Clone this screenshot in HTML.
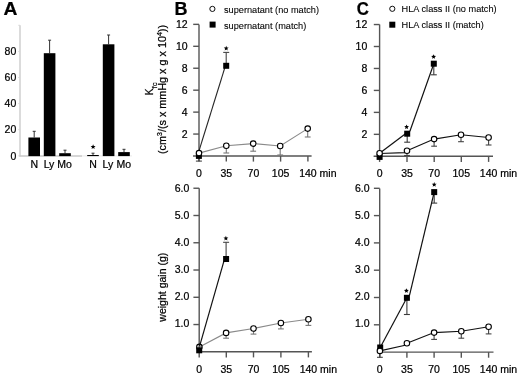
<!DOCTYPE html>
<html><head><meta charset="utf-8"><style>
html,body{margin:0;padding:0;background:#fff;}
svg{display:block;will-change:transform;}
text{font-family:"Liberation Sans",sans-serif;fill:#000;stroke:#000;stroke-width:0.22px;}
</style></head><body>
<svg width="520" height="377" viewBox="0 0 520 377">
<rect width="520" height="377" fill="#fff"/>
<text transform="translate(3.5,14.8) scale(1.07,1)" font-size="18" font-weight="bold">A</text>
<line x1="20.00" y1="25.30" x2="20.00" y2="156.50" stroke="#cfcfcf" stroke-width="1.5"/>
<line x1="18.30" y1="155.80" x2="20.00" y2="155.80" stroke="#d8d8d8" stroke-width="1"/>
<line x1="18.30" y1="129.70" x2="20.00" y2="129.70" stroke="#d8d8d8" stroke-width="1"/>
<line x1="18.30" y1="103.60" x2="20.00" y2="103.60" stroke="#d8d8d8" stroke-width="1"/>
<line x1="18.30" y1="77.50" x2="20.00" y2="77.50" stroke="#d8d8d8" stroke-width="1"/>
<line x1="18.30" y1="51.40" x2="20.00" y2="51.40" stroke="#d8d8d8" stroke-width="1"/>
<line x1="18.30" y1="25.30" x2="20.00" y2="25.30" stroke="#d8d8d8" stroke-width="1"/>
<text x="16.30" y="159.56" font-size="10.5" text-anchor="end">0</text>
<text x="16.30" y="133.46" font-size="10.5" text-anchor="end">20</text>
<text x="16.30" y="107.36" font-size="10.5" text-anchor="end">40</text>
<text x="16.30" y="81.26" font-size="10.5" text-anchor="end">60</text>
<text x="16.30" y="55.16" font-size="10.5" text-anchor="end">80</text>
<line x1="19.50" y1="155.90" x2="82.00" y2="155.90" stroke="#c8c8c8" stroke-width="1.5"/>
<line x1="82.00" y1="155.90" x2="132.00" y2="155.90" stroke="#eeeeee" stroke-width="1.2"/>
<line x1="34.20" y1="137.50" x2="34.20" y2="131.30" stroke="#333" stroke-width="1"/>
<line x1="32.70" y1="131.30" x2="35.70" y2="131.30" stroke="#333" stroke-width="1"/>
<line x1="49.60" y1="53.20" x2="49.60" y2="40.20" stroke="#333" stroke-width="1"/>
<line x1="48.10" y1="40.20" x2="51.10" y2="40.20" stroke="#333" stroke-width="1"/>
<line x1="65.00" y1="153.20" x2="65.00" y2="150.20" stroke="#333" stroke-width="1"/>
<line x1="63.50" y1="150.20" x2="66.50" y2="150.20" stroke="#333" stroke-width="1"/>
<line x1="93.00" y1="155.00" x2="93.00" y2="153.20" stroke="#333" stroke-width="1"/>
<line x1="91.50" y1="153.20" x2="94.50" y2="153.20" stroke="#333" stroke-width="1"/>
<line x1="108.60" y1="44.30" x2="108.60" y2="35.00" stroke="#333" stroke-width="1"/>
<line x1="107.10" y1="35.00" x2="110.10" y2="35.00" stroke="#333" stroke-width="1"/>
<line x1="124.00" y1="152.10" x2="124.00" y2="149.30" stroke="#333" stroke-width="1"/>
<line x1="122.50" y1="149.30" x2="125.50" y2="149.30" stroke="#333" stroke-width="1"/>
<rect x="28.40" y="137.50" width="11.60" height="18.60" fill="#000"/>
<rect x="43.80" y="53.20" width="11.60" height="102.90" fill="#000"/>
<rect x="59.20" y="153.20" width="11.60" height="2.90" fill="#000"/>
<rect x="87.20" y="155.00" width="11.60" height="1.10" fill="#000"/>
<rect x="102.80" y="44.30" width="11.60" height="111.80" fill="#000"/>
<rect x="118.20" y="152.10" width="11.60" height="4.00" fill="#000"/>
<polygon points="93.10,144.30 93.79,145.95 95.57,146.10 94.21,147.26 94.63,149.00 93.10,148.07 91.57,149.00 91.99,147.26 90.63,146.10 92.41,145.95" fill="#000"/>
<text x="34.20" y="167.60" font-size="10.5" text-anchor="middle">N</text>
<text x="49.00" y="167.60" font-size="10.5" text-anchor="middle">Ly</text>
<text x="64.60" y="167.60" font-size="10.5" text-anchor="middle">Mo</text>
<text x="93.00" y="167.60" font-size="10.5" text-anchor="middle">N</text>
<text x="107.90" y="167.60" font-size="10.5" text-anchor="middle">Ly</text>
<text x="123.80" y="167.60" font-size="10.5" text-anchor="middle">Mo</text>
<line x1="199.00" y1="24.40" x2="199.00" y2="156.70" stroke="#555" stroke-width="1.4"/>
<line x1="193.20" y1="134.06" x2="199.00" y2="134.06" stroke="#555" stroke-width="1.4"/>
<text x="187.60" y="137.82" font-size="10.5" text-anchor="end">2</text>
<line x1="193.20" y1="112.12" x2="199.00" y2="112.12" stroke="#555" stroke-width="1.4"/>
<text x="187.60" y="115.88" font-size="10.5" text-anchor="end">4</text>
<line x1="193.20" y1="90.18" x2="199.00" y2="90.18" stroke="#555" stroke-width="1.4"/>
<text x="187.60" y="93.94" font-size="10.5" text-anchor="end">6</text>
<line x1="193.20" y1="68.24" x2="199.00" y2="68.24" stroke="#555" stroke-width="1.4"/>
<text x="187.60" y="72.00" font-size="10.5" text-anchor="end">8</text>
<line x1="193.20" y1="46.30" x2="199.00" y2="46.30" stroke="#555" stroke-width="1.4"/>
<text x="187.60" y="50.06" font-size="10.5" text-anchor="end">10</text>
<line x1="193.20" y1="24.36" x2="199.00" y2="24.36" stroke="#555" stroke-width="1.4"/>
<text x="187.60" y="28.12" font-size="10.5" text-anchor="end">12</text>
<line x1="193.00" y1="156.00" x2="311.60" y2="156.00" stroke="#555" stroke-width="1.4"/>
<line x1="199.00" y1="156.00" x2="199.00" y2="161.60" stroke="#555" stroke-width="1.4"/>
<line x1="226.30" y1="156.00" x2="226.30" y2="161.60" stroke="#555" stroke-width="1.4"/>
<line x1="253.40" y1="156.00" x2="253.40" y2="161.60" stroke="#555" stroke-width="1.4"/>
<line x1="280.60" y1="156.00" x2="280.60" y2="161.60" stroke="#555" stroke-width="1.4"/>
<line x1="307.90" y1="156.00" x2="307.90" y2="161.60" stroke="#555" stroke-width="1.4"/>
<text x="199.00" y="176.90" font-size="10.5" text-anchor="middle">0</text>
<text x="226.30" y="176.90" font-size="10.5" text-anchor="middle">35</text>
<text x="253.40" y="176.90" font-size="10.5" text-anchor="middle">70</text>
<text x="280.60" y="176.90" font-size="10.5" text-anchor="middle">105</text>
<text x="299.14" y="176.90" font-size="10.5">140 min</text>
<line x1="226.30" y1="145.80" x2="226.30" y2="153.00" stroke="#777" stroke-width="1.1"/>
<line x1="223.40" y1="153.00" x2="229.20" y2="153.00" stroke="#777" stroke-width="1.1"/>
<line x1="253.20" y1="143.60" x2="253.20" y2="151.20" stroke="#777" stroke-width="1.1"/>
<line x1="250.30" y1="151.20" x2="256.10" y2="151.20" stroke="#777" stroke-width="1.1"/>
<line x1="280.20" y1="146.00" x2="280.20" y2="155.00" stroke="#777" stroke-width="1.1"/>
<line x1="277.30" y1="155.00" x2="283.10" y2="155.00" stroke="#777" stroke-width="1.1"/>
<line x1="307.70" y1="128.60" x2="307.70" y2="137.00" stroke="#777" stroke-width="1.1"/>
<line x1="304.80" y1="137.00" x2="310.60" y2="137.00" stroke="#777" stroke-width="1.1"/>
<line x1="198.90" y1="155.90" x2="198.90" y2="161.10" stroke="#444" stroke-width="1.1"/>
<line x1="195.90" y1="161.10" x2="201.90" y2="161.10" stroke="#444" stroke-width="1.1"/>
<line x1="226.20" y1="65.80" x2="226.20" y2="52.40" stroke="#444" stroke-width="1.1"/>
<line x1="223.20" y1="52.40" x2="229.20" y2="52.40" stroke="#444" stroke-width="1.1"/>
<polyline points="198.30,153.10 225.40,65.80" fill="none" stroke="#262626" stroke-width="1.15"/>
<polyline points="199.00,153.10 226.30,145.80 253.20,143.60 280.20,146.00 307.70,128.60" fill="none" stroke="#8a8a8a" stroke-width="1.1"/>
<rect x="195.90" y="152.90" width="6.00" height="6.00" fill="#000"/>
<rect x="223.20" y="62.80" width="6.00" height="6.00" fill="#000"/>
<circle cx="199.00" cy="153.10" r="2.75" fill="#fff" stroke="#000" stroke-width="1.1"/>
<circle cx="226.30" cy="145.80" r="2.75" fill="#fff" stroke="#000" stroke-width="1.1"/>
<circle cx="253.20" cy="143.60" r="2.75" fill="#fff" stroke="#000" stroke-width="1.1"/>
<circle cx="280.20" cy="146.00" r="2.75" fill="#fff" stroke="#000" stroke-width="1.1"/>
<circle cx="307.70" cy="128.60" r="2.75" fill="#fff" stroke="#000" stroke-width="1.1"/>
<polygon points="226.20,45.85 226.87,47.47 228.63,47.61 227.29,48.75 227.70,50.46 226.20,49.55 224.70,50.46 225.11,48.75 223.77,47.61 225.53,47.47" fill="#000"/>
<line x1="199.20" y1="188.20" x2="199.20" y2="352.50" stroke="#555" stroke-width="1.4"/>
<line x1="193.40" y1="324.54" x2="199.20" y2="324.54" stroke="#555" stroke-width="1.4"/>
<text x="189.30" y="326.70" font-size="10.5" text-anchor="end">1.0</text>
<line x1="193.40" y1="297.28" x2="199.20" y2="297.28" stroke="#555" stroke-width="1.4"/>
<text x="189.30" y="299.78" font-size="10.5" text-anchor="end">2.0</text>
<line x1="193.40" y1="270.02" x2="199.20" y2="270.02" stroke="#555" stroke-width="1.4"/>
<text x="189.30" y="272.86" font-size="10.5" text-anchor="end">3.0</text>
<line x1="193.40" y1="242.76" x2="199.20" y2="242.76" stroke="#555" stroke-width="1.4"/>
<text x="189.30" y="245.94" font-size="10.5" text-anchor="end">4.0</text>
<line x1="193.40" y1="215.50" x2="199.20" y2="215.50" stroke="#555" stroke-width="1.4"/>
<text x="189.30" y="219.02" font-size="10.5" text-anchor="end">5.0</text>
<line x1="193.40" y1="188.24" x2="199.20" y2="188.24" stroke="#555" stroke-width="1.4"/>
<text x="189.30" y="192.10" font-size="10.5" text-anchor="end">6.0</text>
<line x1="198.50" y1="351.80" x2="311.90" y2="351.80" stroke="#555" stroke-width="1.4"/>
<line x1="199.20" y1="351.80" x2="199.20" y2="357.40" stroke="#555" stroke-width="1.4"/>
<line x1="226.30" y1="351.80" x2="226.30" y2="357.40" stroke="#555" stroke-width="1.4"/>
<line x1="253.50" y1="351.80" x2="253.50" y2="357.40" stroke="#555" stroke-width="1.4"/>
<line x1="280.90" y1="351.80" x2="280.90" y2="357.40" stroke="#555" stroke-width="1.4"/>
<line x1="308.40" y1="351.80" x2="308.40" y2="357.40" stroke="#555" stroke-width="1.4"/>
<text x="199.20" y="372.70" font-size="10.5" text-anchor="middle">0</text>
<text x="226.30" y="372.70" font-size="10.5" text-anchor="middle">35</text>
<text x="253.50" y="372.70" font-size="10.5" text-anchor="middle">70</text>
<text x="280.90" y="372.70" font-size="10.5" text-anchor="middle">105</text>
<text x="299.64" y="372.70" font-size="10.5">140 min</text>
<line x1="226.10" y1="332.90" x2="226.10" y2="338.20" stroke="#777" stroke-width="1.1"/>
<line x1="223.20" y1="338.20" x2="229.00" y2="338.20" stroke="#777" stroke-width="1.1"/>
<line x1="253.50" y1="328.50" x2="253.50" y2="334.10" stroke="#777" stroke-width="1.1"/>
<line x1="250.60" y1="334.10" x2="256.40" y2="334.10" stroke="#777" stroke-width="1.1"/>
<line x1="280.90" y1="323.00" x2="280.90" y2="328.90" stroke="#777" stroke-width="1.1"/>
<line x1="278.00" y1="328.90" x2="283.80" y2="328.90" stroke="#777" stroke-width="1.1"/>
<line x1="308.40" y1="319.30" x2="308.40" y2="325.40" stroke="#777" stroke-width="1.1"/>
<line x1="305.50" y1="325.40" x2="311.30" y2="325.40" stroke="#777" stroke-width="1.1"/>
<line x1="226.10" y1="259.00" x2="226.10" y2="242.30" stroke="#444" stroke-width="1.1"/>
<line x1="223.10" y1="242.30" x2="229.10" y2="242.30" stroke="#444" stroke-width="1.1"/>
<polyline points="199.40,346.90 224.00,260.80" fill="none" stroke="#111" stroke-width="1.2"/>
<polyline points="199.40,346.90 226.10,332.90 253.50,328.50 280.90,323.00 308.40,319.30" fill="none" stroke="#8a8a8a" stroke-width="1.1"/>
<rect x="196.20" y="347.30" width="6.00" height="6.00" fill="#000"/>
<rect x="223.10" y="256.00" width="6.00" height="6.00" fill="#000"/>
<circle cx="199.40" cy="346.90" r="2.75" fill="none" stroke="#000" stroke-width="1.1"/>
<circle cx="226.10" cy="332.90" r="2.75" fill="#fff" stroke="#000" stroke-width="1.1"/>
<circle cx="253.50" cy="328.50" r="2.75" fill="#fff" stroke="#000" stroke-width="1.1"/>
<circle cx="280.90" cy="323.00" r="2.75" fill="#fff" stroke="#000" stroke-width="1.1"/>
<circle cx="308.40" cy="319.30" r="2.75" fill="#fff" stroke="#000" stroke-width="1.1"/>
<polygon points="225.90,235.85 226.57,237.47 228.33,237.61 226.99,238.75 227.40,240.46 225.90,239.55 224.40,240.46 224.81,238.75 223.47,237.61 225.23,237.47" fill="#000"/>
<line x1="379.60" y1="24.50" x2="379.60" y2="157.00" stroke="#555" stroke-width="1.4"/>
<line x1="373.80" y1="134.34" x2="379.60" y2="134.34" stroke="#555" stroke-width="1.4"/>
<text x="367.30" y="138.10" font-size="10.5" text-anchor="end">2</text>
<line x1="373.80" y1="112.38" x2="379.60" y2="112.38" stroke="#555" stroke-width="1.4"/>
<text x="367.30" y="116.14" font-size="10.5" text-anchor="end">4</text>
<line x1="373.80" y1="90.42" x2="379.60" y2="90.42" stroke="#555" stroke-width="1.4"/>
<text x="367.30" y="94.18" font-size="10.5" text-anchor="end">6</text>
<line x1="373.80" y1="68.46" x2="379.60" y2="68.46" stroke="#555" stroke-width="1.4"/>
<text x="367.30" y="72.22" font-size="10.5" text-anchor="end">8</text>
<line x1="373.80" y1="46.50" x2="379.60" y2="46.50" stroke="#555" stroke-width="1.4"/>
<text x="367.30" y="50.26" font-size="10.5" text-anchor="end">10</text>
<line x1="373.80" y1="24.54" x2="379.60" y2="24.54" stroke="#555" stroke-width="1.4"/>
<text x="367.30" y="28.30" font-size="10.5" text-anchor="end">12</text>
<line x1="373.60" y1="156.30" x2="493.00" y2="156.30" stroke="#555" stroke-width="1.4"/>
<line x1="379.60" y1="156.30" x2="379.60" y2="161.90" stroke="#555" stroke-width="1.4"/>
<line x1="407.00" y1="156.30" x2="407.00" y2="161.90" stroke="#555" stroke-width="1.4"/>
<line x1="434.20" y1="156.30" x2="434.20" y2="161.90" stroke="#555" stroke-width="1.4"/>
<line x1="461.30" y1="156.30" x2="461.30" y2="161.90" stroke="#555" stroke-width="1.4"/>
<line x1="488.60" y1="156.30" x2="488.60" y2="161.90" stroke="#555" stroke-width="1.4"/>
<text x="379.60" y="176.90" font-size="10.5" text-anchor="middle">0</text>
<text x="407.00" y="176.90" font-size="10.5" text-anchor="middle">35</text>
<text x="434.20" y="176.90" font-size="10.5" text-anchor="middle">70</text>
<text x="461.30" y="176.90" font-size="10.5" text-anchor="middle">105</text>
<text x="479.84" y="176.90" font-size="10.5">140 min</text>
<line x1="407.00" y1="150.80" x2="407.00" y2="155.50" stroke="#444" stroke-width="1.1"/>
<line x1="404.10" y1="155.50" x2="409.90" y2="155.50" stroke="#444" stroke-width="1.1"/>
<line x1="434.10" y1="139.10" x2="434.10" y2="146.20" stroke="#444" stroke-width="1.1"/>
<line x1="431.20" y1="146.20" x2="437.00" y2="146.20" stroke="#444" stroke-width="1.1"/>
<line x1="461.00" y1="134.80" x2="461.00" y2="141.70" stroke="#444" stroke-width="1.1"/>
<line x1="458.10" y1="141.70" x2="463.90" y2="141.70" stroke="#444" stroke-width="1.1"/>
<line x1="488.60" y1="137.50" x2="488.60" y2="145.00" stroke="#444" stroke-width="1.1"/>
<line x1="485.70" y1="145.00" x2="491.50" y2="145.00" stroke="#444" stroke-width="1.1"/>
<line x1="407.20" y1="133.70" x2="407.20" y2="142.20" stroke="#3a3a3a" stroke-width="1.1"/>
<line x1="404.20" y1="142.20" x2="410.20" y2="142.20" stroke="#3a3a3a" stroke-width="1.1"/>
<line x1="433.80" y1="63.70" x2="433.80" y2="74.80" stroke="#3a3a3a" stroke-width="1.1"/>
<line x1="430.80" y1="74.80" x2="436.80" y2="74.80" stroke="#3a3a3a" stroke-width="1.1"/>
<polyline points="379.60,153.30 405.50,133.80" fill="none" stroke="#111" stroke-width="1.2"/>
<polyline points="409.90,131.30 433.80,63.70" fill="none" stroke="#111" stroke-width="1.2"/>
<polyline points="379.60,153.50 404.80,152.60 407.00,150.80 434.10,139.10 461.00,134.80 488.60,137.50" fill="none" stroke="#111" stroke-width="1.1"/>
<rect x="376.60" y="153.90" width="6.00" height="6.00" fill="#000"/>
<rect x="404.20" y="130.70" width="6.00" height="6.00" fill="#000"/>
<rect x="430.80" y="60.70" width="6.00" height="6.00" fill="#000"/>
<circle cx="379.60" cy="153.30" r="2.75" fill="#fff" stroke="#000" stroke-width="1.1"/>
<circle cx="407.00" cy="150.80" r="2.75" fill="#fff" stroke="#000" stroke-width="1.1"/>
<circle cx="434.10" cy="139.10" r="2.75" fill="#fff" stroke="#000" stroke-width="1.1"/>
<circle cx="461.00" cy="134.80" r="2.75" fill="#fff" stroke="#000" stroke-width="1.1"/>
<circle cx="488.60" cy="137.50" r="2.75" fill="#fff" stroke="#000" stroke-width="1.1"/>
<polygon points="406.60,124.45 407.27,126.07 409.03,126.21 407.69,127.35 408.10,129.06 406.60,128.15 405.10,129.06 405.51,127.35 404.17,126.21 405.93,126.07" fill="#000"/>
<polygon points="433.60,54.25 434.27,55.87 436.03,56.01 434.69,57.15 435.10,58.86 433.60,57.95 432.10,58.86 432.51,57.15 431.17,56.01 432.93,55.87" fill="#000"/>
<line x1="379.70" y1="188.40" x2="379.70" y2="352.80" stroke="#555" stroke-width="1.4"/>
<line x1="373.90" y1="324.80" x2="379.70" y2="324.80" stroke="#555" stroke-width="1.4"/>
<text x="369.50" y="326.76" font-size="10.5" text-anchor="end">1.0</text>
<line x1="373.90" y1="297.50" x2="379.70" y2="297.50" stroke="#555" stroke-width="1.4"/>
<text x="369.50" y="299.84" font-size="10.5" text-anchor="end">2.0</text>
<line x1="373.90" y1="270.20" x2="379.70" y2="270.20" stroke="#555" stroke-width="1.4"/>
<text x="369.50" y="272.92" font-size="10.5" text-anchor="end">3.0</text>
<line x1="373.90" y1="242.90" x2="379.70" y2="242.90" stroke="#555" stroke-width="1.4"/>
<text x="369.50" y="246.00" font-size="10.5" text-anchor="end">4.0</text>
<line x1="373.90" y1="215.60" x2="379.70" y2="215.60" stroke="#555" stroke-width="1.4"/>
<text x="369.50" y="219.08" font-size="10.5" text-anchor="end">5.0</text>
<line x1="373.90" y1="188.30" x2="379.70" y2="188.30" stroke="#555" stroke-width="1.4"/>
<text x="369.50" y="192.16" font-size="10.5" text-anchor="end">6.0</text>
<line x1="379.00" y1="352.10" x2="493.50" y2="352.10" stroke="#555" stroke-width="1.4"/>
<line x1="379.70" y1="352.10" x2="379.70" y2="357.70" stroke="#555" stroke-width="1.4"/>
<line x1="406.90" y1="352.10" x2="406.90" y2="357.70" stroke="#555" stroke-width="1.4"/>
<line x1="434.10" y1="352.10" x2="434.10" y2="357.70" stroke="#555" stroke-width="1.4"/>
<line x1="461.30" y1="352.10" x2="461.30" y2="357.70" stroke="#555" stroke-width="1.4"/>
<line x1="488.60" y1="352.10" x2="488.60" y2="357.70" stroke="#555" stroke-width="1.4"/>
<text x="379.70" y="372.70" font-size="10.5" text-anchor="middle">0</text>
<text x="406.90" y="372.70" font-size="10.5" text-anchor="middle">35</text>
<text x="434.10" y="372.70" font-size="10.5" text-anchor="middle">70</text>
<text x="461.30" y="372.70" font-size="10.5" text-anchor="middle">105</text>
<text x="479.84" y="372.70" font-size="10.5">140 min</text>
<line x1="379.90" y1="350.90" x2="379.90" y2="357.30" stroke="#444" stroke-width="1.1"/>
<line x1="377.00" y1="357.30" x2="382.80" y2="357.30" stroke="#444" stroke-width="1.1"/>
<line x1="434.10" y1="332.60" x2="434.10" y2="339.40" stroke="#444" stroke-width="1.1"/>
<line x1="431.20" y1="339.40" x2="437.00" y2="339.40" stroke="#444" stroke-width="1.1"/>
<line x1="461.30" y1="331.30" x2="461.30" y2="338.20" stroke="#444" stroke-width="1.1"/>
<line x1="458.40" y1="338.20" x2="464.20" y2="338.20" stroke="#444" stroke-width="1.1"/>
<line x1="488.60" y1="326.70" x2="488.60" y2="333.90" stroke="#444" stroke-width="1.1"/>
<line x1="485.70" y1="333.90" x2="491.50" y2="333.90" stroke="#444" stroke-width="1.1"/>
<line x1="406.90" y1="297.80" x2="406.90" y2="314.50" stroke="#3a3a3a" stroke-width="1.1"/>
<line x1="403.90" y1="314.50" x2="409.90" y2="314.50" stroke="#3a3a3a" stroke-width="1.1"/>
<line x1="434.20" y1="192.10" x2="434.20" y2="203.10" stroke="#3a3a3a" stroke-width="1.1"/>
<line x1="431.20" y1="203.10" x2="437.20" y2="203.10" stroke="#3a3a3a" stroke-width="1.1"/>
<polyline points="380.20,347.50 406.90,297.80" fill="none" stroke="#111" stroke-width="1.2"/>
<polyline points="409.50,295.30 434.20,192.10" fill="none" stroke="#111" stroke-width="1.2"/>
<polyline points="379.90,350.90 404.00,345.60 406.90,343.30 434.10,332.60 461.30,331.30 488.60,326.70" fill="none" stroke="#111" stroke-width="1.1"/>
<rect x="377.20" y="344.50" width="6.00" height="6.00" fill="#000"/>
<rect x="403.90" y="294.80" width="6.00" height="6.00" fill="#000"/>
<rect x="431.20" y="189.10" width="6.00" height="6.00" fill="#000"/>
<circle cx="379.90" cy="350.90" r="2.75" fill="#fff" stroke="#000" stroke-width="1.1"/>
<circle cx="406.90" cy="343.30" r="2.75" fill="#fff" stroke="#000" stroke-width="1.1"/>
<circle cx="434.10" cy="332.60" r="2.75" fill="#fff" stroke="#000" stroke-width="1.1"/>
<circle cx="461.30" cy="331.30" r="2.75" fill="#fff" stroke="#000" stroke-width="1.1"/>
<circle cx="488.60" cy="326.70" r="2.75" fill="#fff" stroke="#000" stroke-width="1.1"/>
<polygon points="406.40,288.25 407.07,289.87 408.83,290.01 407.49,291.15 407.90,292.86 406.40,291.95 404.90,292.86 405.31,291.15 403.97,290.01 405.73,289.87" fill="#000"/>
<polygon points="434.20,182.05 434.87,183.67 436.63,183.81 435.29,184.95 435.70,186.66 434.20,185.75 432.70,186.66 433.11,184.95 431.77,183.81 433.53,183.67" fill="#000"/>
<text x="174.40" y="14.80" font-size="18" text-anchor="start" font-weight="bold">B</text>
<text transform="translate(356.7,14.8) scale(0.93,1)" font-size="18" font-weight="bold">C</text>
<circle cx="212.40" cy="8.90" r="2.6" fill="#fff" stroke="#000" stroke-width="0.95"/>
<rect x="209.60" y="21.60" width="6.00" height="6.00" fill="#000"/>
<text x="224.00" y="12.60" font-size="9.2" text-anchor="start" style="stroke-width:0.08px">supernatant (no match)</text>
<text x="224.00" y="29.00" font-size="9.2" text-anchor="start" style="stroke-width:0.08px">supernatant (match)</text>
<circle cx="392.30" cy="8.80" r="2.6" fill="#fff" stroke="#000" stroke-width="0.95"/>
<rect x="389.30" y="21.70" width="6.00" height="6.00" fill="#000"/>
<text x="401.60" y="12.30" font-size="9.2" text-anchor="start" style="stroke-width:0.08px">HLA class II (no match)</text>
<text x="401.60" y="28.40" font-size="9.2" text-anchor="start" style="stroke-width:0.08px">HLA class II (match)</text>
<text transform="translate(152.9,95.3) rotate(-90)" font-size="10.3">K<tspan font-size="7.5" dy="4.1">fc</tspan></text>
<text transform="translate(166.2,89.5) rotate(-90)" font-size="10.8" text-anchor="middle">(cm<tspan font-size="7" dy="-4.2">3</tspan><tspan dy="4.2">/(s x mmHg x g x 10</tspan><tspan font-size="7" dy="-4.2">4</tspan><tspan dy="4.2">))</tspan></text>
<text transform="translate(166.2,287.2) rotate(-90)" font-size="10.5" text-anchor="middle">weight gain (g)</text>
</svg>
</body></html>
